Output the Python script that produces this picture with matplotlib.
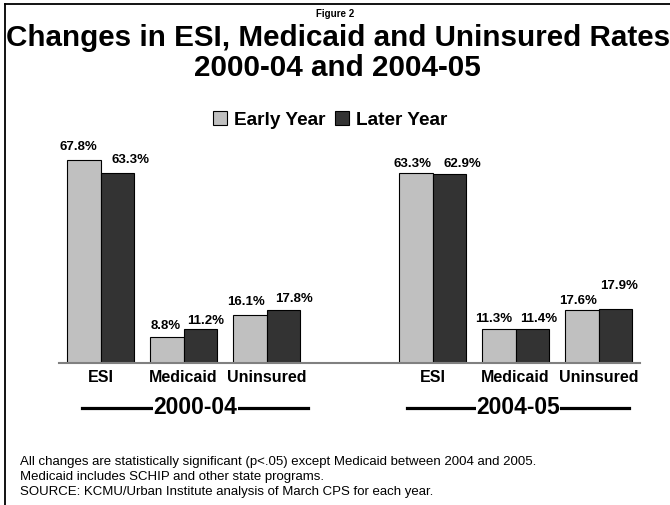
import numpy as np
import matplotlib
matplotlib.use('Agg')
import matplotlib.pyplot as plt
from matplotlib.lines import Line2D
from matplotlib.patches import Patch
import matplotlib.transforms as mtransforms

plt.rcParams['font.family'] = ['Liberation Sans', 'DejaVu Sans']

# coverage rates (%) by period
categories = ['ESI', 'Medicaid', 'Uninsured']
periods = ['2000-04', '2004-05']
early_0004 = [67.8, 8.8, 16.1]
later_0004 = [63.3, 11.2, 17.8]
early_0405 = [63.3, 11.3, 17.6]
later_0405 = [62.9, 11.4, 17.9]

series_labels = ['Early Year', 'Later Year']
notes = ['All changes are statistically significant (p<.05) except Medicaid between 2004 and 2005.',
         'Medicaid includes SCHIP and other state programs.',
         'SOURCE: KCMU/Urban Institute analysis of March CPS for each year.']

EARLY_COL = '#c0c0c0'
LATER_COL = '#333333'

# label nudges in pixels (dx, dy above bar top), early/later per category
nudge_early = [[(-6, 13), (-1, 11), (-4, 13)], [(-3, 9), (-5, 10), (-4, 9)]]
nudge_later = [[(13, 13), (6, 8), (11, 11)], [(13, 10), (7, 10), (4, 23)]]

W, H = 670, 505
fig = plt.figure(figsize=(W / 100, H / 100), dpi=100)

def fx(px):
    return px / W

def fy(py):
    return 1 - py / H

# frame lines on left and top
fig.add_artist(Line2D([fx(5), fx(5)], [0, fy(4)], color='black', lw=1.3))
fig.add_artist(Line2D([fx(5), 1], [fy(4), fy(4)], color='black', lw=1.3))

fig.text(fx(335), fy(14), 'Figure 2', ha='center', va='center', fontsize=7, fontweight='bold')
fig.text(fx(338), fy(38), 'Changes in ESI, Medicaid and Uninsured Rates',
         ha='center', va='center', fontsize=21.3, fontweight='bold')
fig.text(fx(337), fy(68), '2000-04 and 2004-05',
         ha='center', va='center', fontsize=21.3, fontweight='bold')

ax = fig.add_axes([fx(59), 142 / H, 581 / W, 225 / H])
ax.set_xlim(-0.5, 6.5)
ax.set_ylim(0, 75)

group_x = [np.arange(3), np.arange(3) + 4]
early_sets = [early_0004, early_0405]
later_sets = [later_0004, later_0405]
bw = 0.4

for g in range(2):
    xs = group_x[g]
    ax.bar(xs - bw / 2, early_sets[g], bw, color=EARLY_COL, edgecolor='black', lw=0.8)
    ax.bar(xs + bw / 2, later_sets[g], bw, color=LATER_COL, edgecolor='black', lw=0.8)
    for i in range(3):
        for val, off, (dx, dy) in [(early_sets[g][i], -bw / 2, nudge_early[g][i]),
                                   (later_sets[g][i], bw / 2, nudge_later[g][i])]:
            ax.annotate(f'{val:.1f}%', (xs[i] + off, val), xytext=(dx, dy),
                        textcoords='offset pixels', ha='center', va='center',
                        fontsize=9.5, fontweight='bold')

ax.set_xticks(np.concatenate(group_x))
ax.set_xticklabels(categories * 2, fontsize=11.5, fontweight='bold')
ax.tick_params(axis='x', length=0, pad=5)
ax.set_yticks([])
for s in ['left', 'right', 'top']:
    ax.spines[s].set_visible(False)
ax.spines['bottom'].set_color('#808080')
ax.spines['bottom'].set_linewidth(1.5)

# period labels with rules on both sides
trans = mtransforms.blended_transform_factory(ax.transData, ax.transAxes)
rule_spans = [(-0.22, 2.5), (3.69, 6.37)]
for g, name in enumerate(periods):
    x0, x1 = rule_spans[g]
    ax.plot([x0, x1], [-0.2, -0.2], color='black', lw=2.3, transform=trans, clip_on=False)
    ax.text((x0 + x1) / 2, -0.2, name, transform=trans, ha='center', va='center',
            fontsize=16.5, fontweight='bold',
            bbox=dict(facecolor='white', edgecolor='none', pad=0.3))

handles = [Patch(facecolor=EARLY_COL, edgecolor='black', lw=0.8),
           Patch(facecolor=LATER_COL, edgecolor='black', lw=0.8)]
fig.legend(handles, series_labels, loc='center', bbox_to_anchor=(fx(330), fy(120)),
           ncol=2, frameon=False, prop={'weight': 'bold', 'size': 13.7},
           handlelength=0.75, handleheight=0.75, handletextpad=0.35, columnspacing=0.5)

for k, line in enumerate(notes):
    fig.text(fx(20), fy(462 + 15 * k), line, ha='left', va='center', fontsize=9.5)

fig.savefig('out.png', dpi=100)
